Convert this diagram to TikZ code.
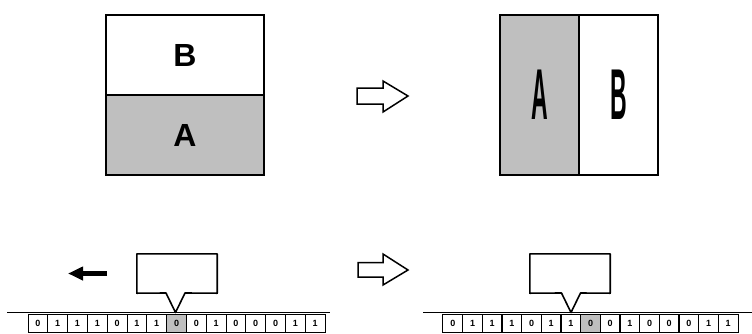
\documentclass[tikz,border=0pt]{standalone}
\usepackage{fontspec}
\setmainfont{Liberation Sans}
\usetikzlibrary{arrows.meta}
\begin{document}
\begin{tikzpicture}[x=1pt,y=-1pt,
  region/.style={draw, line width=1.6pt, inner sep=0pt, font=\bfseries\fontsize{32}{32}\selectfont},
  shaded/.style={fill=black!25},
  hollow/.style={draw, line width=1.5pt, line join=miter, fill=white},
  callout/.style={draw, line width=1.6pt, line join=round},
  cell/.style={draw, line width=1pt, minimum width=19.8pt, minimum height=18pt, inner sep=0pt, font=\bfseries\fontsize{9}{9}\selectfont},
  tapeline/.style={line width=1.2pt}
]
\useasboundingbox (0,0) rectangle (752,333);

% top left square
\node[region, minimum width=158pt, minimum height=80pt] (B1) at (185,55) {B};
\node[region, shaded, minimum width=158pt, minimum height=80pt] (A1) at (185,135) {A};

% top right square
\node[region, shaded, minimum width=79pt, minimum height=160pt] (A2) at (539.5,95) {\scalebox{0.72}[2.25]{A}};
\node[region, minimum width=79pt, minimum height=160pt] (B2) at (618.5,95) {\scalebox{0.72}[2.25]{B}};

% hollow arrows
\draw[hollow] (357,88) -- (383,88) -- (383,81) -- (408,96) -- (383,112) -- (383,104) -- (357,104) -- cycle;
\draw[hollow] (358,262.5) -- (383,262.5) -- (383,254) -- (408,270) -- (383,285) -- (383,277) -- (358,277) -- cycle;

% black arrow
\coordinate (bs) at (107,273.5);
\coordinate (be) at (68,273.5);
\draw[line width=5pt, -{Triangle[length=15pt,width=13pt]}] (bs) -- (be);

% left tape
\coordinate (LT0) at (7,312.5);
\coordinate (LT1) at (330,312.5);
\draw[tapeline] (LT0) -- (LT1);
\foreach \d/\s [count=\i from 0] in {0/,1/,1/,1/,0/,1/,1/,0/shaded,0/,1/,0/,0/,0/,1/,1/} {
  \node[cell,\s] (L\i) at ({28+19.8*(\i+0.5)},323.5) {\d};
}

% right tape
\coordinate (RT0) at (423,312.5);
\coordinate (RT1) at (752,312.5);
\draw[tapeline] (RT0) -- (RT1);
\foreach \d/\s [count=\i from 0] in {0/,1/,1/,1/,0/,1/,1/,0/shaded,0/,1/,0/,0/,0/,1/,1/} {
  \node[cell,\s] (R\i) at ({443+19.67*(\i+0.5)},323.5) {\d};
}

% left head callout
\node[minimum width=80pt, minimum height=39pt, inner sep=0pt] (H1) at (177,273.5) {};
\coordinate (T1) at (175.5,312.5);
\draw[callout] (H1.north west) -- (H1.north east) -- (H1.south east) -- (185,293) -- (T1) -- (166,293) -- (H1.south west) -- cycle;

% right head callout
\node[minimum width=80pt, minimum height=39pt, inner sep=0pt] (H2) at (570,273.5) {};
\coordinate (T2) at (571,312.5);
\draw[callout] (H2.north west) -- (H2.north east) -- (H2.south east) -- (580.5,293) -- (T2) -- (561.5,293) -- (H2.south west) -- cycle;
\end{tikzpicture}
\end{document}
